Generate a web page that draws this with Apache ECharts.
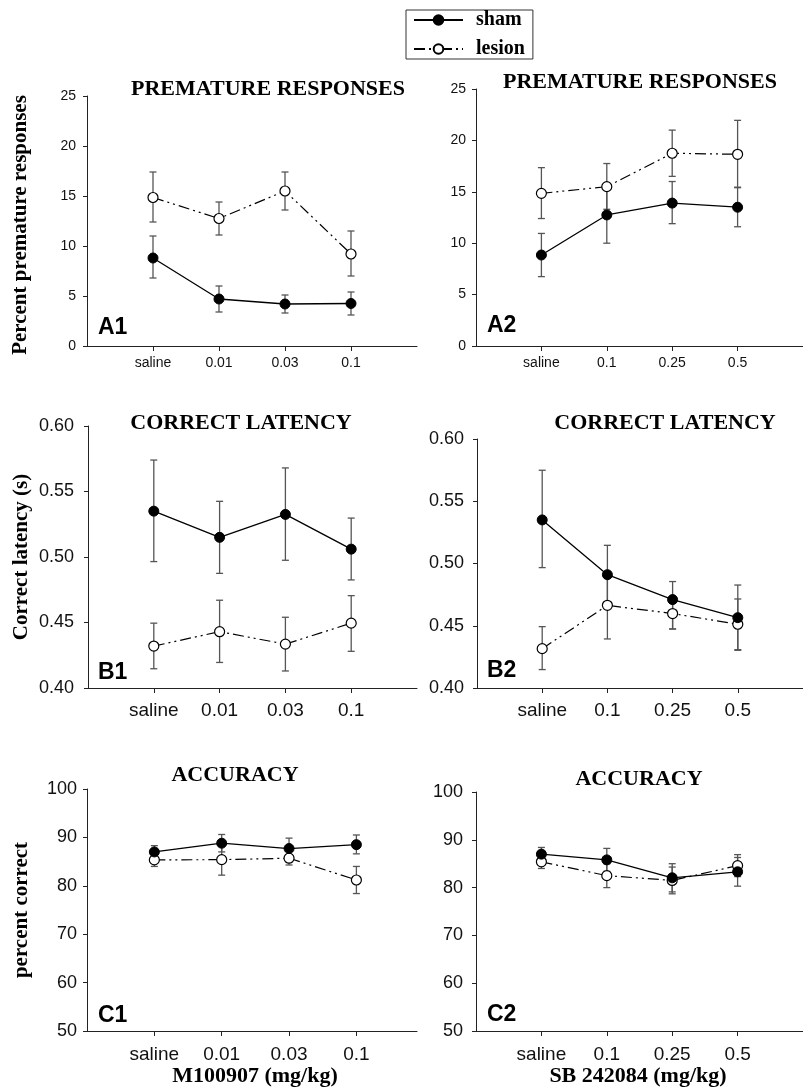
<!DOCTYPE html>
<html>
<head>
<meta charset="utf-8">
<script src="https://cdn.jsdelivr.net/npm/echarts@6/dist/echarts.min.js"></script>
<style>
  html, body { margin: 0; padding: 0; background: #fff; }
  #main { width: 803px; height: 1088px; }
</style>
</head>
<body>
<div id="main"></div>
<script>
// dose categories
const catsLeft = ['saline', '0.01', '0.03', '0.1'];
const catsRight = ['saline', '0.1', '0.25', '0.5'];

// A1 premature responses, M100907
const a1ShamMean = [8.8, 4.7, 4.2, 4.25];
const a1ShamLo = [6.8, 3.4, 3.3, 3.1];
const a1ShamHi = [11.0, 6.0, 5.1, 5.4];
const a1LesMean = [14.85, 12.75, 15.5, 9.2];
const a1LesLo = [12.4, 11.1, 13.6, 7.0];
const a1LesHi = [17.4, 14.4, 17.4, 11.5];

// A2 premature responses, SB 242084
const a2ShamMean = [8.85, 12.75, 13.9, 13.5];
const a2ShamLo = [6.75, 10.0, 11.9, 11.6];
const a2ShamHi = [10.95, 15.45, 16.0, 15.45];
const a2LesMean = [14.85, 15.5, 18.75, 18.65];
const a2LesLo = [12.4, 13.3, 16.5, 15.4];
const a2LesHi = [17.35, 17.75, 21.0, 21.95];

// B1 correct latency, M100907
const b1ShamMean = [0.535, 0.515, 0.5325, 0.506];
const b1ShamLo = [0.4965, 0.4875, 0.4975, 0.4825];
const b1ShamHi = [0.574, 0.5425, 0.568, 0.5297];
const b1LesMean = [0.432, 0.443, 0.4335, 0.4495];
const b1LesLo = [0.4147, 0.4195, 0.413, 0.428];
const b1LesHi = [0.4495, 0.467, 0.454, 0.4705];

// B2 correct latency, SB 242084
const b2ShamMean = [0.535, 0.491, 0.471, 0.4565];
const b2ShamLo = [0.4967, 0.4676, 0.4474, 0.4303];
const b2ShamHi = [0.5749, 0.5146, 0.4855, 0.4827];
const b2LesMean = [0.4316, 0.4664, 0.4598, 0.4512];
const b2LesLo = [0.4148, 0.4394, 0.4474, 0.4308];
const b2LesHi = [0.4493, 0.4934, 0.4722, 0.4715];

// C1 accuracy, M100907
const c1ShamMean = [87.0, 88.8, 87.7, 88.5];
const c1ShamLo = [85.8, 87.0, 85.5, 86.6];
const c1ShamHi = [88.3, 90.6, 89.85, 90.5];
const c1LesMean = [85.35, 85.4, 85.7, 81.2];
const c1LesLo = [84.0, 82.2, 84.3, 78.4];
const c1LesHi = [86.6, 88.6, 87.1, 84.0];

// C2 accuracy, SB 242084
const c2ShamMean = [87.0, 85.8, 82.05, 83.3];
const c2ShamLo = [85.6, 83.4, 79.1, 80.3];
const c2ShamHi = [88.4, 88.2, 85.0, 86.3];
const c2LesMean = [85.4, 82.5, 81.5, 84.6];
const c2LesLo = [84.0, 80.0, 78.7, 82.3];
const c2LesHi = [86.8, 85.0, 84.3, 86.9];

// axis tick values
const premTicks = [0, 25, 5];
const latTicks = [0.40, 0.60, 0.05];
const accTicks = [50, 100, 10];

const SERIF = '"Liberation Serif", "Times New Roman", serif';
const SANS = '"Liberation Sans", Arial, sans-serif';

const panels = [
    { cats: catsLeft, grid: { left: 87, top: 96, width: 330, height: 250 }, xMax: 5, y: premTicks, ySize: 14, xSize: 14, yMargin: 11, xMargin: 10, dec: 0,
      sham: [a1ShamMean, a1ShamLo, a1ShamHi], les: [a1LesMean, a1LesLo, a1LesHi] },
    { cats: catsRight, grid: { left: 476, top: 89, width: 338, height: 257 }, xMax: 5, y: premTicks, ySize: 14, xSize: 14, yMargin: 10, xMargin: 10, dec: 0,
      sham: [a2ShamMean, a2ShamLo, a2ShamHi], les: [a2LesMean, a2LesLo, a2LesHi] },
    { cats: catsLeft, grid: { left: 88, top: 426, width: 329, height: 262 }, xMax: 5, y: latTicks, ySize: 18, xSize: 19, yMargin: 14, xMargin: 13, dec: 2,
      sham: [b1ShamMean, b1ShamLo, b1ShamHi], les: [b1LesMean, b1LesLo, b1LesHi] },
    { cats: catsRight, grid: { left: 477, top: 439, width: 328, height: 249 }, xMax: 5, y: latTicks, ySize: 18, xSize: 19, yMargin: 13, xMargin: 13, dec: 2,
      sham: [b2ShamMean, b2ShamLo, b2ShamHi], les: [b2LesMean, b2LesLo, b2LesHi] },
    { cats: catsLeft, grid: { left: 87, top: 789, width: 330, height: 242 }, xMax: 4.9, y: accTicks, ySize: 18, xSize: 19, yMargin: 10, xMargin: 14, dec: 0,
      sham: [c1ShamMean, c1ShamLo, c1ShamHi], les: [c1LesMean, c1LesLo, c1LesHi] },
    { cats: catsRight, grid: { left: 476, top: 792, width: 327, height: 239 }, xMax: 5, y: accTicks, ySize: 18, xSize: 19, yMargin: 13, xMargin: 14, dec: 0,
      sham: [c2ShamMean, c2ShamLo, c2ShamHi], les: [c2LesMean, c2LesLo, c2LesHi] }
];

const lesionDash = [11, 4, 2, 4, 2, 4];

function renderErr(params, api) {
    const x = api.value(0);
    const top = api.coord([x, api.value(2)]);
    const bot = api.coord([x, api.value(1)]);
    const w = 3.5;
    const st = { stroke: '#555', lineWidth: 1.3 };
    return {
        type: 'group',
        children: [
            { type: 'line', shape: { x1: top[0], y1: top[1], x2: bot[0], y2: bot[1] }, style: st },
            { type: 'line', shape: { x1: top[0] - w, y1: top[1], x2: top[0] + w, y2: top[1] }, style: st },
            { type: 'line', shape: { x1: bot[0] - w, y1: bot[1], x2: bot[0] + w, y2: bot[1] }, style: st }
        ]
    };
}

const grid = [], xAxis = [], yAxis = [], series = [];
panels.forEach((p, i) => {
    grid.push(p.grid);
    xAxis.push({
        type: 'value', gridIndex: i, min: 0, max: p.xMax,
        axisLine: { show: true, onZero: false, lineStyle: { color: '#222', width: 1 } },
        axisTick: { show: true, length: 5, customValues: [1, 2, 3, 4], lineStyle: { color: '#222' } },
        axisLabel: {
            customValues: [1, 2, 3, 4], fontSize: p.xSize, fontFamily: SANS, color: '#111', margin: p.xMargin,
            formatter: v => p.cats[Math.round(v) - 1] || ''
        },
        splitLine: { show: false }
    });
    yAxis.push({
        type: 'value', gridIndex: i, min: p.y[0], max: p.y[1], interval: p.y[2],
        axisLine: { show: true, lineStyle: { color: '#222', width: 1 } },
        axisTick: { show: true, length: 4, lineStyle: { color: '#222' } },
        axisLabel: { fontSize: p.ySize, fontFamily: SANS, color: '#111', margin: p.yMargin,
            formatter: v => v.toFixed(p.dec) },
        splitLine: { show: false }
    });
    const pts = arr => arr.map((v, j) => [j + 1, v]);
    const errs = g => g[0].map((v, j) => [j + 1, g[1][j], g[2][j]]);
    series.push({
        type: 'custom', xAxisIndex: i, yAxisIndex: i, renderItem: renderErr,
        encode: { x: 0, y: [1, 2] }, data: errs(p.sham), z: 2, silent: true
    });
    series.push({
        type: 'custom', xAxisIndex: i, yAxisIndex: i, renderItem: renderErr,
        encode: { x: 0, y: [1, 2] }, data: errs(p.les), z: 2, silent: true
    });
    series.push({
        name: 'sham', type: 'line', xAxisIndex: i, yAxisIndex: i, data: pts(p.sham[0]),
        symbol: 'circle', symbolSize: 10, z: 4,
        itemStyle: { color: '#000', borderColor: '#000', borderWidth: 1 },
        lineStyle: { color: '#000', width: 1.3 }
    });
    series.push({
        name: 'lesion', type: 'line', xAxisIndex: i, yAxisIndex: i, data: pts(p.les[0]),
        symbol: 'circle', symbolSize: 10, z: 3,
        itemStyle: { color: '#fff', borderColor: '#000', borderWidth: 1.2 },
        lineStyle: { color: '#000', width: 1.2, type: lesionDash }
    });
});

function txt(x, y, text, font, extra) {
    return Object.assign({
        type: 'text', x: x, y: y, silent: true,
        style: { text: text, font: font, fill: '#000', textAlign: 'center', textVerticalAlign: 'middle' }
    }, extra || {});
}

const titleFont = 'bold 22px ' + SERIF;
const nameFont = 'bold 21px ' + SERIF;
const tagFont = 'bold 23px ' + SANS;

const graphics = [
    txt(268, 89, 'PREMATURE RESPONSES', titleFont),
    txt(640, 82, 'PREMATURE RESPONSES', titleFont),
    txt(241, 423, 'CORRECT LATENCY', titleFont),
    txt(665, 423, 'CORRECT LATENCY', titleFont),
    txt(235, 775, 'ACCURACY', titleFont),
    txt(639, 779, 'ACCURACY', titleFont),
    txt(21, 225, 'Percent premature responses', nameFont, { rotation: Math.PI / 2 }),
    txt(22, 557, 'Correct latency (s)', nameFont, { rotation: Math.PI / 2 }),
    txt(22, 910, 'percent correct', nameFont, { rotation: Math.PI / 2 }),
    txt(255, 1076, 'M100907 (mg/kg)', 'bold 22px ' + SERIF),
    txt(638, 1076, 'SB 242084 (mg/kg)', 'bold 22px ' + SERIF)
];
[['A1', 98, 328], ['A2', 487, 326], ['B1', 98, 673], ['B2', 487, 671], ['C1', 98, 1016], ['C2', 487, 1015]]
    .forEach(t => {
        const g = txt(t[1], t[2], t[0], tagFont);
        g.style.textAlign = 'left';
        graphics.push(g);
    });

const chart = echarts.init(document.getElementById('main'), null, { renderer: 'canvas' });
chart.setOption({
    animation: false,
    backgroundColor: '#fff',
    grid: grid,
    xAxis: xAxis,
    yAxis: yAxis,
    series: series,
    legend: {
        data: ['sham', 'lesion'],
        orient: 'vertical',
        left: 406, top: 10,
        padding: [0, 8, 0, 7],
        itemWidth: 49, itemHeight: 12, itemGap: 9,
        borderColor: '#333', borderWidth: 1,
        textStyle: { fontFamily: SERIF, fontWeight: 'bold', fontSize: 20, lineHeight: 18, color: '#000', padding: [0, 0, 0, 8] }
    },
    graphic: graphics
});
</script>
</body>
</html>
